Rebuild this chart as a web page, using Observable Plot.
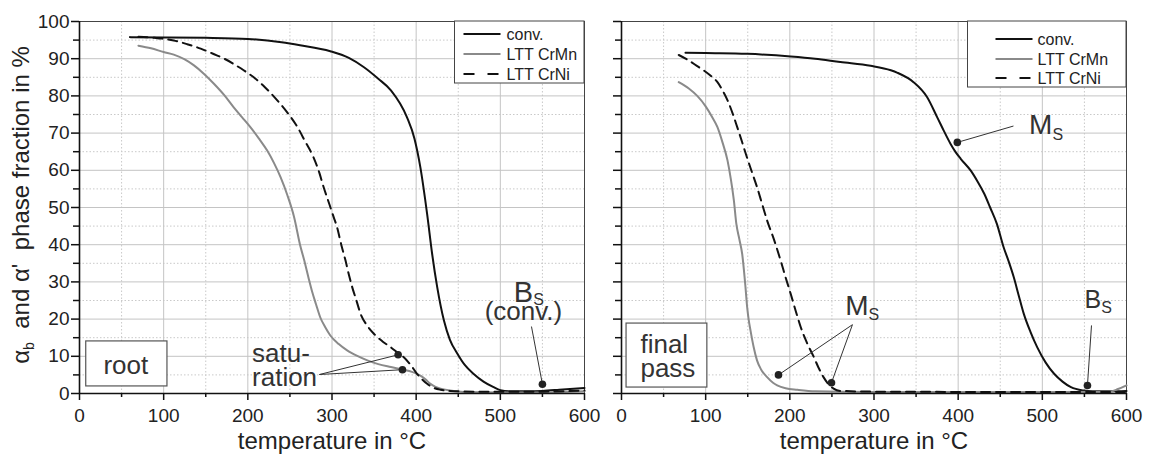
<!DOCTYPE html>
<html><head><meta charset="utf-8">
<script src="https://cdn.jsdelivr.net/npm/d3@7"></script>
<script src="https://cdn.jsdelivr.net/npm/@observablehq/plot@0.6"></script>
<style>
body{margin:0;background:#fff;}
#wrap{position:relative;width:1152px;height:455px;overflow:hidden;background:#fff;}
#left,#right{position:absolute;top:0;}
#left{left:0px}
#right{left:600px}
svg{overflow:visible}
</style></head><body><div id="wrap"><div id="left"></div><div id="right"></div></div>
<script>
// ---------- data ----------
const seriesNames = ["conv.", "LTT CrMn", "LTT CrNi"];
const xTicks = [0, 100, 200, 300, 400, 500, 600];
const xMinor = [50, 150, 250, 350, 450, 550];
const yTicks = [0, 10, 20, 30, 40, 50, 60, 70, 80, 90, 100];
const yMinor = [5, 15, 25, 35, 45, 55, 65, 75, 85, 95];
const xLabel = "temperature in °C";

// root pass: [temperature °C, phase fraction %]
const rootConv = [[60,95.8],[100,95.7],[150,95.6],[200,95.3],[240,94.4],[262,93.6],[298,92.0],[320,90.2],[338,87.7],[355,84.6],[370,81.5],[389,74.3],[398,68.5],[405,60.8],[413,48.3],[419,37.5],[425,28.6],[433,19.6],[440,14.5],[449,10.7],[458,7.6],[468,5.3],[480,3.2],[492,1.7],[500,0.9],[510,0.6],[530,0.6],[550,0.7],[570,1.0],[600,1.5]];
const rootCrMn = [[70,93.5],[85,92.8],[100,91.8],[112,91.1],[125,89.8],[136,88.2],[148,85.9],[160,83.2],[172,80.2],[183,77.0],[193,74.3],[203,71.6],[213,68.6],[223,65.3],[231,62.0],[239,58.1],[247,53.3],[255,47.4],[262,40.0],[267,35.8],[272,31.2],[276,27.7],[281,24.0],[286,20.5],[292,17.8],[298,15.6],[308,13.3],[318,11.6],[330,10.1],[342,8.9],[355,7.9],[370,7.1],[384,6.4],[395,5.8],[405,4.8],[411,3.8],[417,2.6],[423,1.8],[429,1.3],[440,0.8],[457,0.4],[500,0.3],[550,0.3],[600,0.6]];
const rootCrNi = [[70,95.9],[90,95.6],[112,94.9],[128,93.9],[144,92.7],[160,91.2],[172,90.0],[183,88.6],[195,86.9],[207,85.0],[220,82.4],[235,78.8],[247,75.5],[259,71.6],[268,67.8],[278,63.5],[285,59.3],[290,55.5],[297,50.8],[302,47.4],[306,44.7],[311,40.0],[316,35.8],[320,32.0],[324,28.6],[329,25.0],[334,21.4],[341,18.5],[350,16.0],[360,14.0],[370,12.4],[378,11.0],[385,9.8],[393,7.8],[401,5.3],[407,3.8],[413,2.6],[420,1.6],[429,1.0],[440,0.7],[470,0.5],[550,0.5],[600,0.8]];

// final pass
const finalConv = [[76,91.6],[100,91.5],[149,91.3],[201,90.6],[230,90.0],[260,89.1],[296,88.1],[320,86.9],[328,86.2],[347,83.7],[363,79.7],[375,74.3],[383,70.6],[391,67.1],[397,64.9],[403,63.1],[415,59.9],[423,57.0],[431,53.7],[438,50.0],[446,45.6],[454,39.3],[460,35.5],[466,31.3],[472,26.3],[478,21.4],[486,16.5],[494,12.4],[504,8.3],[514,5.3],[524,3.2],[534,1.7],[549,0.8],[560,0.6],[580,0.6],[600,0.7]];
const finalCrMn = [[68,83.7],[80,82.0],[90,80.0],[100,77.2],[108,74.2],[114,71.6],[120,67.5],[126,62.6],[130,57.5],[133.5,51.9],[136.5,45.5],[140,41.5],[143.4,37.5],[147.3,28.6],[149.3,23.2],[151,20.0],[153.3,16.9],[157,12.5],[161,8.9],[166,6.4],[173,4.4],[180,2.9],[185,2.2],[195,1.4],[209,1.0],[230,0.6],[300,0.4],[500,0.4],[580,0.5],[590,1.2],[600,2.2]];
const finalCrNi = [[68,91.0],[80,89.5],[90,88.0],[98,86.8],[106,85.4],[114,83.7],[120,81.5],[126,78.8],[132,75.3],[137.5,71.6],[143,67.8],[149,63.5],[155,59.5],[161,55.5],[167,51.0],[173,46.5],[181,41.5],[189,35.8],[195,31.2],[201,26.8],[207,22.2],[213,17.8],[220,13.8],[228.5,9.8],[234,7.0],[240,4.4],[246,2.5],[252,1.3],[260,0.7],[300,0.5],[500,0.4],[600,0.4]];

// annotations (data coordinates)
const rootDots = [[378.6,10.4],[383.7,6.4],[550,2.5]];
const rootLeaders = [[285,5.1,378.6,10.4],[285,5.1,383.7,6.4],[537,18,550,2.5]];
const rootBox = [[8,104.5,1.9,14]];
const rootTexts = [
  {x:55, y:7.5, text:"root", anchor:"middle", size:26},
  {x:205, y:10.6, text:"satu-", anchor:"start", size:26},
  {x:205, y:4.2, text:"ration", anchor:"start", size:26},
  {x:539, y:27.0, text:"B", anchor:"end", size:29},
  {x:539, y:25.3, text:"S", anchor:"start", size:16},
  {x:527.5, y:21.9, text:"(conv.)", anchor:"middle", size:26}
];
const finalDots = [[399,67.5],[553.6,2.15],[186.5,5.0],[249.5,2.9]];
const finalLeaders = [[465.7,71.9,399,67.5],[558.4,18.3,553.6,2.15],[274.4,18.5,186.5,5.0],[274.4,18.5,249.5,2.9]];
const finalBox = [[6,102,1.6,18.8]];
const finalTexts = [
  {x:22.5, y:13.0, text:"final", anchor:"start", size:26},
  {x:22.5, y:6.8, text:"pass", anchor:"start", size:26},
  {x:512, y:72.1, text:"M", anchor:"end", size:28},
  {x:512, y:69.4, text:"S", anchor:"start", size:16},
  {x:570, y:25.1, text:"B", anchor:"end", size:25},
  {x:570, y:22.9, text:"S", anchor:"start", size:16},
  {x:293.5, y:23.5, text:"M", anchor:"end", size:28},
  {x:293.5, y:21.2, text:"S", anchor:"start", size:16}
];

// ---------- drawing ----------
const FONT = "'Liberation Sans', Arial, Helvetica, sans-serif";
const lineStyles = [
  {stroke:"#111", strokeWidth:2, strokeDasharray:null},
  {stroke:"#8a8a8a", strokeWidth:2, strokeDasharray:null},
  {stroke:"#111", strokeWidth:2, strokeDasharray:"9,6"}
];

function panel({series, dots, leaders, box, texts, labels, width, marginLeft, marginRight}) {
  const marks = [
    Plot.gridY(yMinor, {stroke:"#c9c9c9", strokeOpacity:1, strokeDasharray:"1.5,2"}),
    Plot.gridX(xMinor, {stroke:"#c9c9c9", strokeOpacity:1, strokeDasharray:"1.5,2"}),
    Plot.gridY(yTicks, {stroke:"#c4c4c4", strokeOpacity:1}),
    Plot.gridX(xTicks, {stroke:"#c4c4c4", strokeOpacity:1}),
    Plot.frame({stroke:"#444", strokeWidth:1}),
    Plot.axisX(xTicks, {tickSize:7, tickPadding:8, fontSize:19, stroke:"#111", strokeWidth:1.5, fill:"#222", label:null}),
    Plot.axisX(xMinor, {tickSize:4, tickFormat:() => "", stroke:"#111", strokeWidth:1.5, label:null}),
    Plot.axisY(yTicks, {tickSize:8, tickPadding:2, fontSize:19, stroke:"#111", strokeWidth:1.5, fill:"#222", label:null,
      tickFormat: labels ? (d => d) : (() => "")}),
    Plot.axisY(yMinor, {tickSize:6, tickFormat:() => "", stroke:"#111", strokeWidth:1.5, label:null}),
    Plot.rect(box, {x1:d=>d[0], x2:d=>d[1], y1:d=>d[2], y2:d=>d[3], fill:"white", stroke:"#555", strokeWidth:1.2}),
  ];
  series.forEach((s, i) => {
    const st = lineStyles[i];
    marks.push(Plot.line(s, {x:d=>d[0], y:d=>d[1], curve:"monotone-x", stroke:st.stroke, strokeWidth:st.strokeWidth,
      strokeDasharray:st.strokeDasharray, strokeLinejoin:"round"}));
  });
  marks.push(
    Plot.ruleX([0], {stroke:"#111", strokeWidth:1.6}),
    Plot.ruleY([0], {stroke:"#111", strokeWidth:1.6}),
    Plot.link(leaders, {x1:d=>d[0], y1:d=>d[1], x2:d=>d[2], y2:d=>d[3], stroke:"#333", strokeWidth:1}),
    Plot.dot(dots, {x:d=>d[0], y:d=>d[1], r:3.8, fill:"#222", stroke:"none"})
  );
  for (const a of ["start", "middle", "end"]) {
    marks.push(Plot.text(texts.filter(d => d.anchor === a),
      {x:"x", y:"y", text:"text", textAnchor:a, fontSize:d=>d.size, fill:"#333"}));
  }
  marks.push(Plot.text([xLabel], {frameAnchor:"bottom", lineAnchor:"middle", dy:48, fontSize:24, fill:"#222"}));
  return Plot.plot({
    width, height:455, marginLeft, marginRight, marginTop:21, marginBottom:62,
    style:{fontFamily:FONT, background:"transparent", overflow:"visible"},
    x:{domain:[0,600]},
    y:{domain:[0,100]},
    marks
  });
}

function addLegend(svg, {x, y, w, h, rows, sx1, sx2, tx}) {
  const g = d3.select(svg).append("g").attr("font-family", FONT).attr("text-anchor", "start");
  g.append("rect").attr("x", x).attr("y", y).attr("width", w).attr("height", h)
    .attr("fill", "white").attr("stroke", "#444").attr("stroke-width", 1);
  seriesNames.forEach((name, i) => {
    const st = lineStyles[i];
    g.append("line").attr("x1", x + sx1).attr("x2", x + sx2).attr("y1", y + rows[i]).attr("y2", y + rows[i])
      .attr("stroke", st.stroke).attr("stroke-width", st.strokeWidth)
      .attr("stroke-dasharray", st.strokeDasharray ? "11,13" : null);
    g.append("text").attr("x", x + tx).attr("y", y + rows[i]).attr("dy", "0.35em").attr("text-anchor", "start")
      .attr("font-size", 16).attr("fill", "#222").text(name);
  });
}

const left = panel({series:[rootConv, rootCrMn, rootCrNi], dots:rootDots, leaders:rootLeaders, box:rootBox, texts:rootTexts,
  labels:true, width:600, marginLeft:79, marginRight:16});
const right = panel({series:[finalConv, finalCrMn, finalCrNi], dots:finalDots, leaders:finalLeaders, box:finalBox, texts:finalTexts,
  labels:false, width:552, marginLeft:21, marginRight:26});
document.getElementById("left").appendChild(left);
document.getElementById("right").appendChild(right);

addLegend(left, {x:454.5, y:21, w:129.5, h:62, rows:[13, 33, 53], sx1:9, sx2:46, tx:52});
addLegend(right, {x:367.5, y:21, w:158.5, h:66, rows:[18, 38, 57], sx1:28, sx2:65, tx:70});

// y-axis label with subscript
const yl = d3.select(left).append("text")
  .attr("transform", "translate(21,205) rotate(-90)")
  .attr("text-anchor", "middle").attr("dy", "0.35em")
  .attr("font-family", FONT).attr("font-size", 24).attr("fill", "#222")
  .style("white-space", "pre");
yl.append("tspan").text("α");
yl.append("tspan").attr("font-size", 14).attr("dy", 5).text("b");
yl.append("tspan").attr("dy", -5).text("  and α'  phase fraction in %");
</script></body></html>
